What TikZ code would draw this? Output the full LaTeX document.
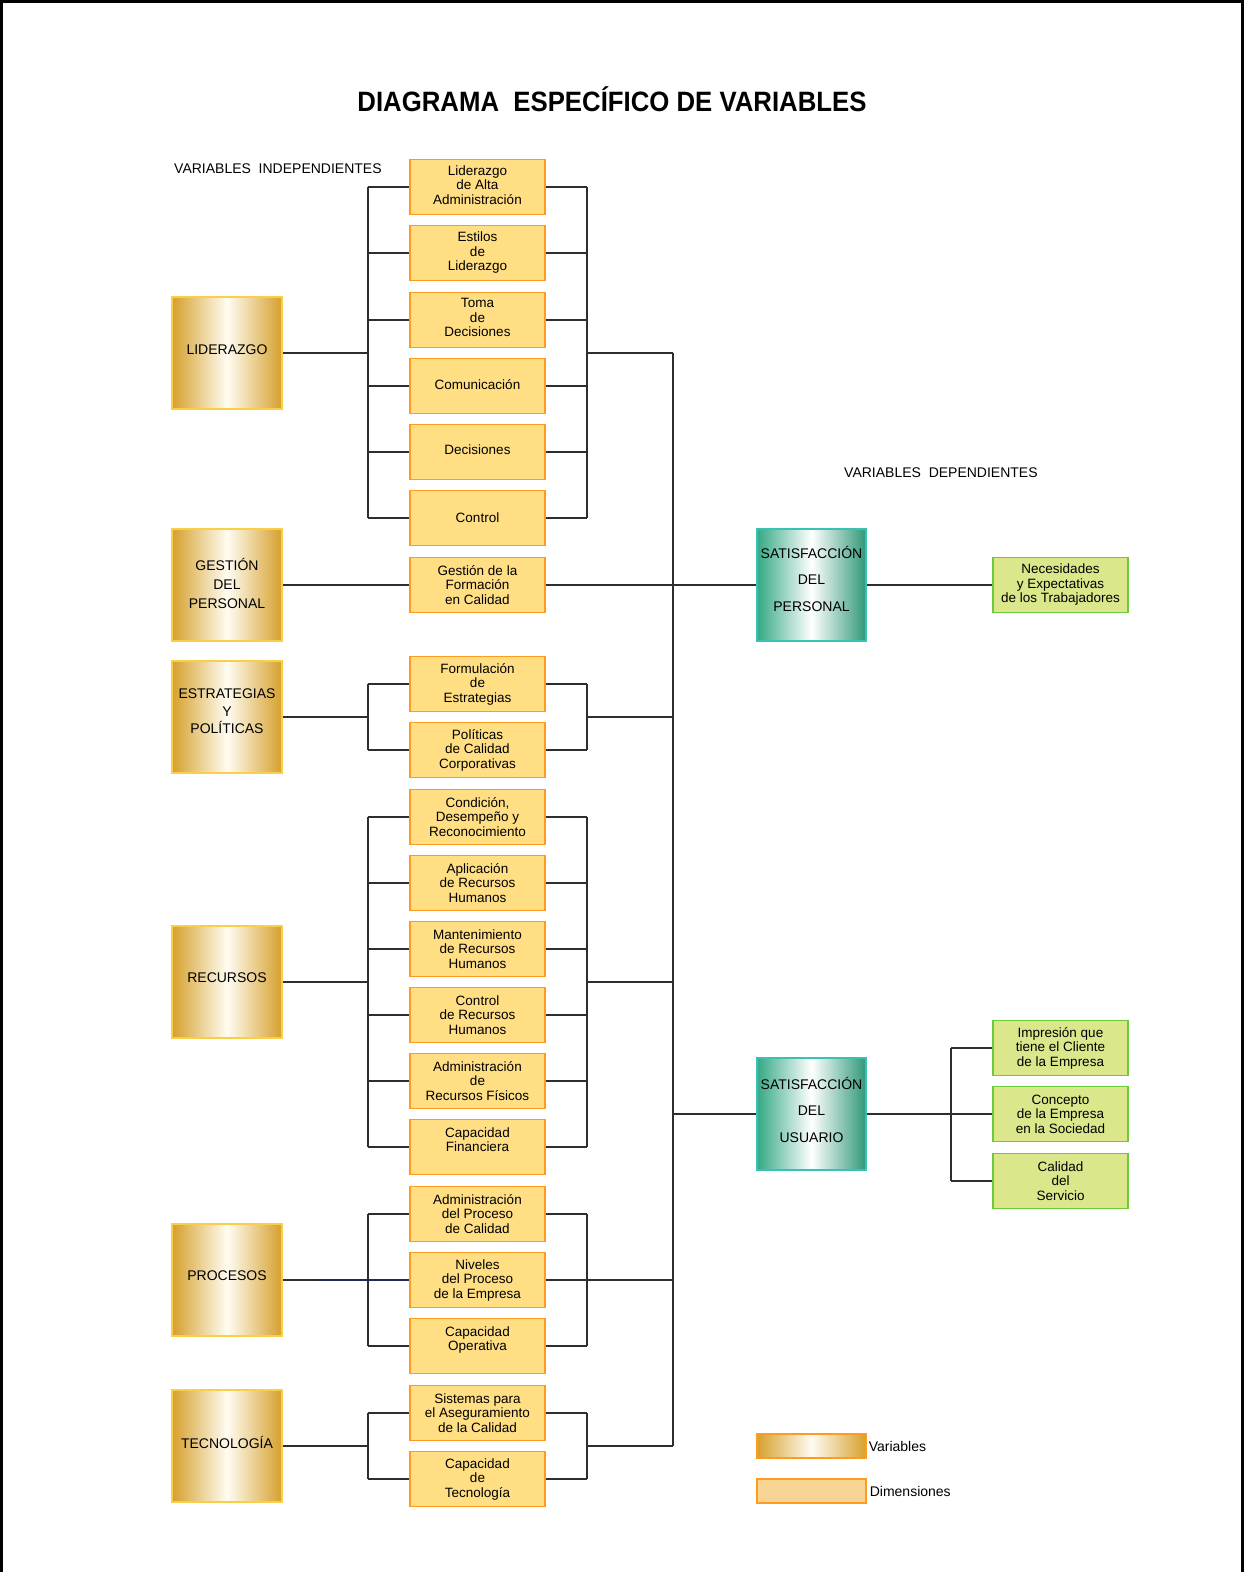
\documentclass[tikz,border=0pt]{standalone}
\usepackage{fontspec}
\usepackage{graphicx}
\setmainfont{Liberation Sans}

\definecolor{vgold}{HTML}{D6A02C}
\definecolor{vlight}{HTML}{FFFCF2}
\definecolor{vedge}{HTML}{F9CF48}
\definecolor{dimfill}{HTML}{FFDE84}
\definecolor{dimedge}{HTML}{FF9B1E}
\definecolor{teal}{HTML}{35A886}
\definecolor{tealedge}{HTML}{38C2B4}
\definecolor{greenfill}{HTML}{DCE68A}
\definecolor{greenedge}{HTML}{6CCB3A}
\definecolor{legfill}{HTML}{F8D595}
\definecolor{linkcol}{HTML}{2E2E2E}
\definecolor{navylink}{HTML}{1F2A5A}

\begin{document}
\begin{tikzpicture}[x=1pt,y=-1pt,
  varbox/.style={minimum width=110pt, minimum height=112pt, inner sep=0pt,
    left color=vgold, right color=vgold, middle color=vlight,
    draw=vedge, line width=1.2pt, align=center,
    font=\fontsize{14}{19}\selectfont},
  depbox/.style={minimum width=109pt, minimum height=112pt, inner sep=0pt,
    left color=teal, right color=teal!90!black, middle color=white,
    draw=tealedge, line width=1.2pt, align=center,
    font=\fontsize{14}{26.5}\selectfont},
  dimbox/.style={minimum width=135pt, minimum height=55pt, inner sep=0pt,
    fill=dimfill, draw=dimedge, line width=1.5pt, align=center,
    font=\fontsize{13.5}{14.5}\selectfont},
  effbox/.style={minimum width=135pt, minimum height=55pt, inner sep=0pt,
    fill=greenfill, draw=greenedge, line width=1.5pt, align=center,
    font=\fontsize{13.5}{14.5}\selectfont},
  link/.style={draw=linkcol, line width=1.2pt},
  caption/.style={inner sep=0pt, font=\fontsize{14}{16}\selectfont}
]
\useasboundingbox (0,0) rectangle (1244,1572);

% page frame, open at the bottom
\draw[line width=3pt] (1.5,1572) -- (1.5,1.5) -- (1242.5,1.5) -- (1242.5,1572);

% headings
\node[anchor=base, inner sep=0pt] (title) at (612,111)
  {\fontsize{28}{32}\bfseries\scalebox{0.92}[1]{DIAGRAMA\ \ ESPECÍFICO DE VARIABLES}};
\node[caption, anchor=base west] (indep) at (174,173) {VARIABLES\ \ INDEPENDIENTES};
\node[caption, anchor=base west] (dep) at (844,477) {VARIABLES\ \ DEPENDIENTES};

% bus positions
\coordinate (busL) at (368,0);
\coordinate (busR) at (587,0);
\coordinate (main) at (673,0);
\coordinate (busG) at (951,0);

% independent variables
\node[varbox] (lid) at (227,353) {\raisebox{6pt}{LIDERAZGO}};
\node[varbox] (ges) at (227,585) {GESTIÓN\\DEL\\PERSONAL\\[-16pt]\mbox{}};
\node[varbox] (est) at (227,717) {ESTRATEGIAS\\[-1pt]Y\\[-2pt]POLÍTICAS\\[-8pt]\mbox{}};
\node[varbox] (rec) at (227,982) {\raisebox{8pt}{RECURSOS}};
\node[varbox] (pro) at (227,1280) {\raisebox{8pt}{PROCESOS}};
\node[varbox] (tec) at (227,1446) {\raisebox{8pt}{TECNOLOGÍA}};

% dimensions
\node[dimbox] (d1) at (477.5,187) {Liderazgo\\de Alta\\Administración\\[-10pt]\mbox{}};
\node[dimbox] (d2) at (477.5,253) {Estilos\\de\\Liderazgo};
\node[dimbox] (d3) at (477.5,320) {Toma\\de\\Decisiones\\[-10pt]\mbox{}};
\node[dimbox] (d4) at (477.5,386) {\raisebox{3pt}{Comunicación}};
\node[dimbox] (d5) at (477.5,452) {\raisebox{4pt}{Decisiones}};
\node[dimbox] (d6) at (477.5,518) {Control};
\node[dimbox] (d7) at (477.5,585) {Gestión de la\\Formación\\en Calidad};
\node[dimbox] (d8) at (477.5,684) {Formulación\\de\\Estrategias};
\node[dimbox] (d9) at (477.5,750) {Políticas\\de Calidad\\Corporativas};
\node[dimbox] (d10) at (477.5,817) {Condición,\\Desempeño y\\Reconocimiento};
\node[dimbox] (d11) at (477.5,883) {Aplicación\\de Recursos\\Humanos};
\node[dimbox] (d12) at (477.5,949) {Mantenimiento\\de Recursos\\Humanos};
\node[dimbox] (d13) at (477.5,1015) {Control\\de Recursos\\Humanos};
\node[dimbox] (d14) at (477.5,1081) {Administración\\de\\Recursos Físicos};
\node[dimbox] (d15) at (477.5,1147) {Capacidad\\Financiera\\[0pt]};
\node[dimbox] (d16) at (477.5,1214) {Administración\\del Proceso\\de Calidad};
\node[dimbox] (d17) at (477.5,1280) {Niveles\\del Proceso\\de la Empresa};
\node[dimbox] (d18) at (477.5,1346) {Capacidad\\Operativa\\[0pt]};
\node[dimbox] (d19) at (477.5,1413) {Sistemas para\\el Aseguramiento\\de la Calidad};
\node[dimbox] (d20) at (477.5,1479) {Capacidad\\de\\Tecnología};

% dependent variables
\node[depbox] (sp) at (811.5,585) {SATISFACCIÓN\\DEL\\PERSONAL\\[-14pt]\mbox{}};
\node[depbox] (su) at (811.5,1114) {SATISFACCIÓN\\DEL\\USUARIO\\[-18pt]\mbox{}};

% their dimensions
\node[effbox] (g1) at (1060.5,585) {Necesidades\\y Expectativas\\de los Trabajadores};
\node[effbox] (g2) at (1060.5,1048) {Impresión que\\tiene el Cliente\\de la Empresa};
\node[effbox] (g3) at (1060.5,1114) {Concepto\\de la Empresa\\en la Sociedad};
\node[effbox] (g4) at (1060.5,1181) {Calidad\\del\\Servicio};

% legend
\node[minimum width=109pt, minimum height=24pt, inner sep=0pt,
  left color=vgold, right color=vgold, middle color=vlight,
  draw=dimedge, line width=1.2pt] (lv) at (811.5,1446) {};
\node[caption, anchor=west] (lvt) at ([xshift=2pt]lv.east) {Variables};
\node[minimum width=109pt, minimum height=24pt, inner sep=0pt,
  fill=legfill, draw=dimedge, line width=1.2pt] (ld) at (811.5,1491) {};
\node[caption, anchor=west] (ldt) at ([xshift=3pt]ld.east) {Dimensiones};

% --- connectors ---
% a group: variable -> left bus -> dimensions -> right bus -> main bus
\newcommand{\groupwire}[3]{%
  \draw[link] (#2.west -| busL) -- (#3.west -| busL);
  \draw[link] (#2.east -| busR) -- (#3.east -| busR);
  \draw[link] (#1.east) -- (#1.east -| busL);
  \draw[link] (#1.east -| busR) -- (#1.east -| main);
}
\newcommand{\dimwire}[1]{%
  \draw[link] (#1.west) -- (#1.west -| busL);
  \draw[link] (#1.east) -- (#1.east -| busR);
}

\groupwire{lid}{d1}{d6}
\foreach \d in {d1,d2,d3,d4,d5,d6} {\dimwire{\d}}

\draw[link] (ges.east) -- (d7.west);
\draw[link] (d7.east) -- (sp.west);

\groupwire{est}{d8}{d9}
\foreach \d in {d8,d9} {\dimwire{\d}}

\groupwire{rec}{d10}{d15}
\foreach \d in {d10,d11,d12,d13,d14,d15} {\dimwire{\d}}

\draw[link] (d16.west -| busL) -- (d18.west -| busL);
\draw[link] (d16.east -| busR) -- (d18.east -| busR);
\draw[link] (pro.east) -- (d17.west);
\draw[link, draw=navylink] ([xshift=-50pt]d17.west -| busL) -- (d17.west);
\draw[link] (d17.east) -- (d17.east -| main);
\foreach \d in {d16,d18} {\dimwire{\d}}

\groupwire{tec}{d19}{d20}
\foreach \d in {d19,d20} {\dimwire{\d}}

% main bus
\draw[link] (lid.east -| main) -- (tec.east -| main);
\draw[link] (su.west -| main) -- (su.west);

% dependent side
\draw[link] (sp.east) -- (g1.west);
\draw[link] (su.east) -- (g3.west);
\draw[link] (g2.west -| busG) -- (g4.west -| busG);
\draw[link] (g2.west) -- (g2.west -| busG);
\draw[link] (g4.west) -- (g4.west -| busG);
\end{tikzpicture}
\end{document}
